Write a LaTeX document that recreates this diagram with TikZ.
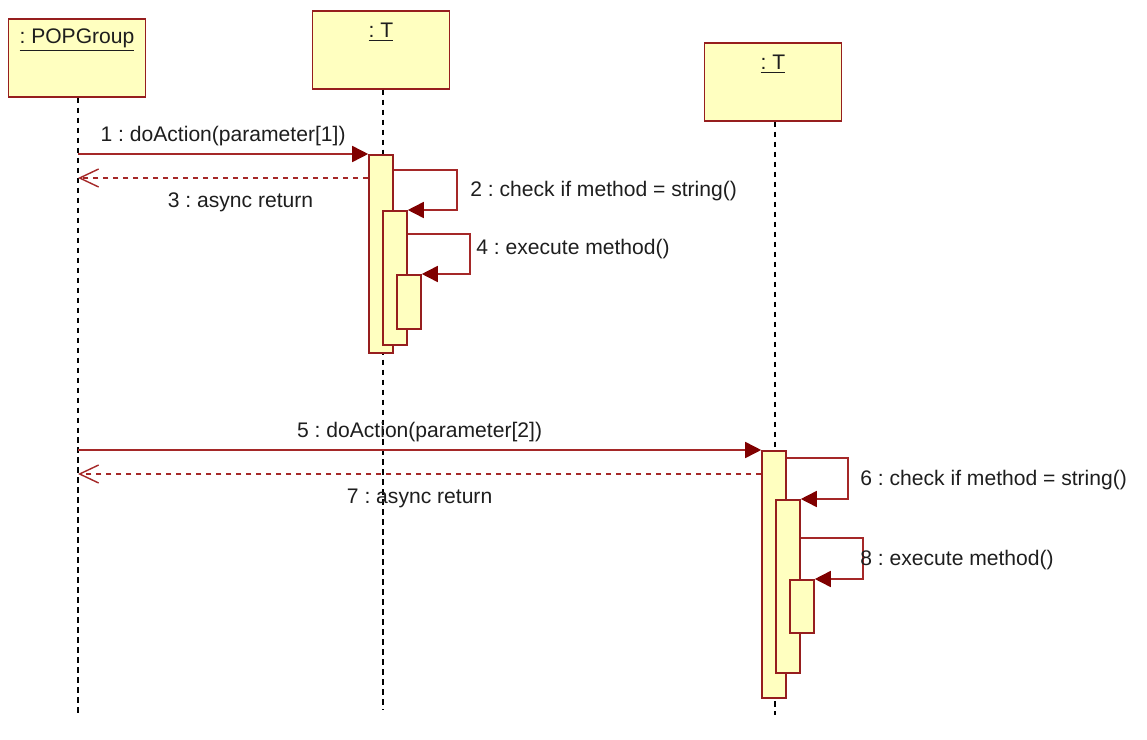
\documentclass[tikz,border=0pt]{standalone}
\usepackage{fontspec}
\setmainfont{Liberation Sans}
\usepackage{tikz}
\usetikzlibrary{arrows.meta,positioning,calc}
\frenchspacing

\definecolor{umlborder}{RGB}{150,30,30}
\definecolor{umlline}{RGB}{165,40,40}
\definecolor{umlfill}{RGB}{255,255,192}
\definecolor{umlhead}{RGB}{128,0,0}
\definecolor{umltext}{RGB}{30,30,30}

\begin{document}
\begin{tikzpicture}[x=0.02cm, y=-0.02cm,
    font=\fontsize{12}{14}\selectfont,
    objbox/.style={draw=umlborder, fill=umlfill, line width=0.9pt, minimum width=2.74cm, minimum height=1.56cm, anchor=north, inner sep=0pt},
    objname/.style={inner sep=0pt, text=umltext},
    actbar/.style={draw=umlborder, fill=umlfill, line width=0.9pt, minimum width=0.48cm, anchor=north, inner sep=0pt},
    lifeline/.style={black, line width=0.9pt, dash pattern=on 1.1mm off 0.9mm},
    call/.style={umlline, line width=0.9pt, -{Triangle[length=3.2mm, width=3.2mm, fill=umlhead, color=umlhead]}},
    reply/.style={umlline, line width=0.8pt, dash pattern=on 1.1mm off 0.9mm, -{Straight Barb[length=3.8mm, width=3.6mm, line width=0.8pt]}},
    msgtext/.style={inner sep=0pt, text=umltext}
]
    \useasboundingbox (0,0) rectangle (1147,740);

    % --- OBJEKTUMOK ---
    \node[objbox] (pop) at (77,18) {};
    \node[objname] at ($(pop.north)+(0,22)$) {\underline{: POPGroup}};

    \node[objbox] (ta) at (381,10) {};
    \node[objname] at ($(ta.north)+(0,22)$) {\underline{: T}};

    \node[objbox] (tb) at (773,42) {};
    \node[objname] at ($(tb.north)+(0,22)$) {\underline{: T}};

    % eletvonalak
    \coordinate (popend) at (78,715);
    \coordinate (taend) at (383,710);
    \coordinate (tbend) at (775,715);
    \draw[lifeline] (pop.south -| popend) -- (popend);
    \draw[lifeline] (ta.south -| taend) -- (taend);
    \draw[lifeline] (tb.south -| tbend) -- (tbend);

    % --- ELSO HIVAS (T) ---
    \node[actbar, minimum height=3.96cm] (baraA) at (381,154) {};
    \node[actbar, minimum height=2.68cm] (barbA) at (395,210) {};
    \node[actbar, minimum height=1.08cm] (barcA) at (409,274) {};

    \draw[call] (popend |- baraA.north) -- (baraA.north west)
        node[msgtext, pos=0.5, above=0.14cm] {1 : doAction(parameter[1])};
    \coordinate (retA) at ($(baraA.north west)+(0,24)$);
    \draw[reply] (retA) -- (popend |- retA)
        node[msgtext, pos=0.44, below=0.28cm] {3 : async return};

    % onhivasok
    \draw[call] ($(baraA.north east)+(0,16)$) -- ++(63,0) |- (barbA.north east);
    \node[msgtext, anchor=west] at (470,191) {2 : check if method = string()};
    \draw[call] ($(barbA.north east)+(0,24)$) -- ++(62,0) |- (barcA.north east);
    \node[msgtext, anchor=west] at (476,249) {4 : execute method()};

    % --- MASODIK HIVAS (T) ---
    \node[actbar, minimum height=4.94cm] (baraB) at (774,450) {};
    \node[actbar, minimum height=3.46cm] (barbB) at (788,499) {};
    \node[actbar, minimum height=1.06cm] (barcB) at (802,579) {};

    \draw[call] (popend |- baraB.north) -- (baraB.north west)
        node[msgtext, pos=0.5, above=0.14cm] {5 : doAction(parameter[2])};
    \coordinate (retB) at ($(baraB.north west)+(0,24)$);
    \draw[reply] (retB) -- (popend |- retB)
        node[msgtext, pos=0.5, below=0.28cm] {7 : async return};

    \draw[call] ($(baraB.north east)+(0,8)$) -- ++(61,0) |- (barbB.north east);
    \node[msgtext, anchor=west] at (860,480) {6 : check if method = string()};
    \draw[call] ($(barbB.north east)+(0,39)$) -- ++(62,0) |- (barcB.north east);
    \node[msgtext, anchor=west] at (860,560) {8 : execute method()};

\end{tikzpicture}
\end{document}
